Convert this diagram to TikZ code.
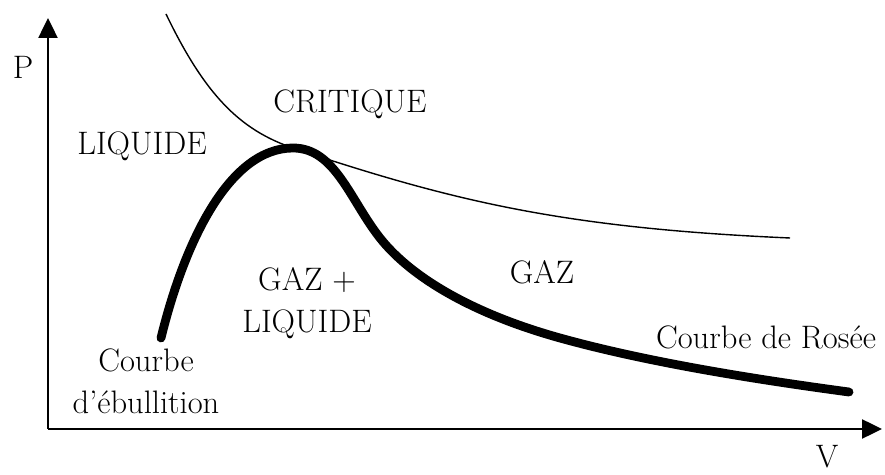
\documentclass[tikz,border=0pt]{standalone}
\usetikzlibrary{arrows.meta}
\begin{document}
\begin{tikzpicture}[x=0.02cm, y=-0.02cm, >={Triangle[length=0.4cm,width=0.38cm]},
  every node/.style={font=\fontsize{18.5}{24}\selectfont, inner sep=0pt},
  axe/.style={->, line width=1.4pt},
  isotherme/.style={line width=0.8pt},
  saturation/.style={line width=5pt, line cap=round}]

  \useasboundingbox (0,0) rectangle (885,475);

  % 1. axes
  \coordinate (O) at (48,429);
  \coordinate (Pmax) at (48,18);
  \coordinate (Vmax) at (882,429);
  \draw[axe] (O) -- (Pmax);
  \draw[axe] (O) -- (Vmax);
  \node (P) at (23,67) {P};
  \node (V) at (827,457) {V};

  % 2. isotherme critique (trait fin), tangente au point critique C
  \coordinate (C) at (293,148);
  \draw[isotherme] (166,14) .. controls (205,95) and (240,130) .. (C)
    .. controls (450,200) and (560,228) .. (790,238);

  % 3. courbe d'ebullition puis courbe de rosee (trait epais)
  \draw[saturation] (161,338) .. controls (185,240) and (230,148) .. (C)
    .. controls (335,148) and (350,200) .. (380,238)
    .. controls (410,276) and (470,313) .. (560,338)
    .. controls (650,363) and (760,380) .. (849,392);

  % 4. domaines
  \node (liquide) at (142,146) {LIQUIDE};
  \node (critique) at (350,104) {CRITIQUE};
  \node[align=center] (melange) at (307,303) {GAZ +\\LIQUIDE};
  \node (gaz) at (542,272) {GAZ};
  \node (rosee) at (766,337) {Courbe de Rosée};
  \node[align=center] (ebullition) at (146,381) {Courbe\\d'ébullition};

\end{tikzpicture}
\end{document}
